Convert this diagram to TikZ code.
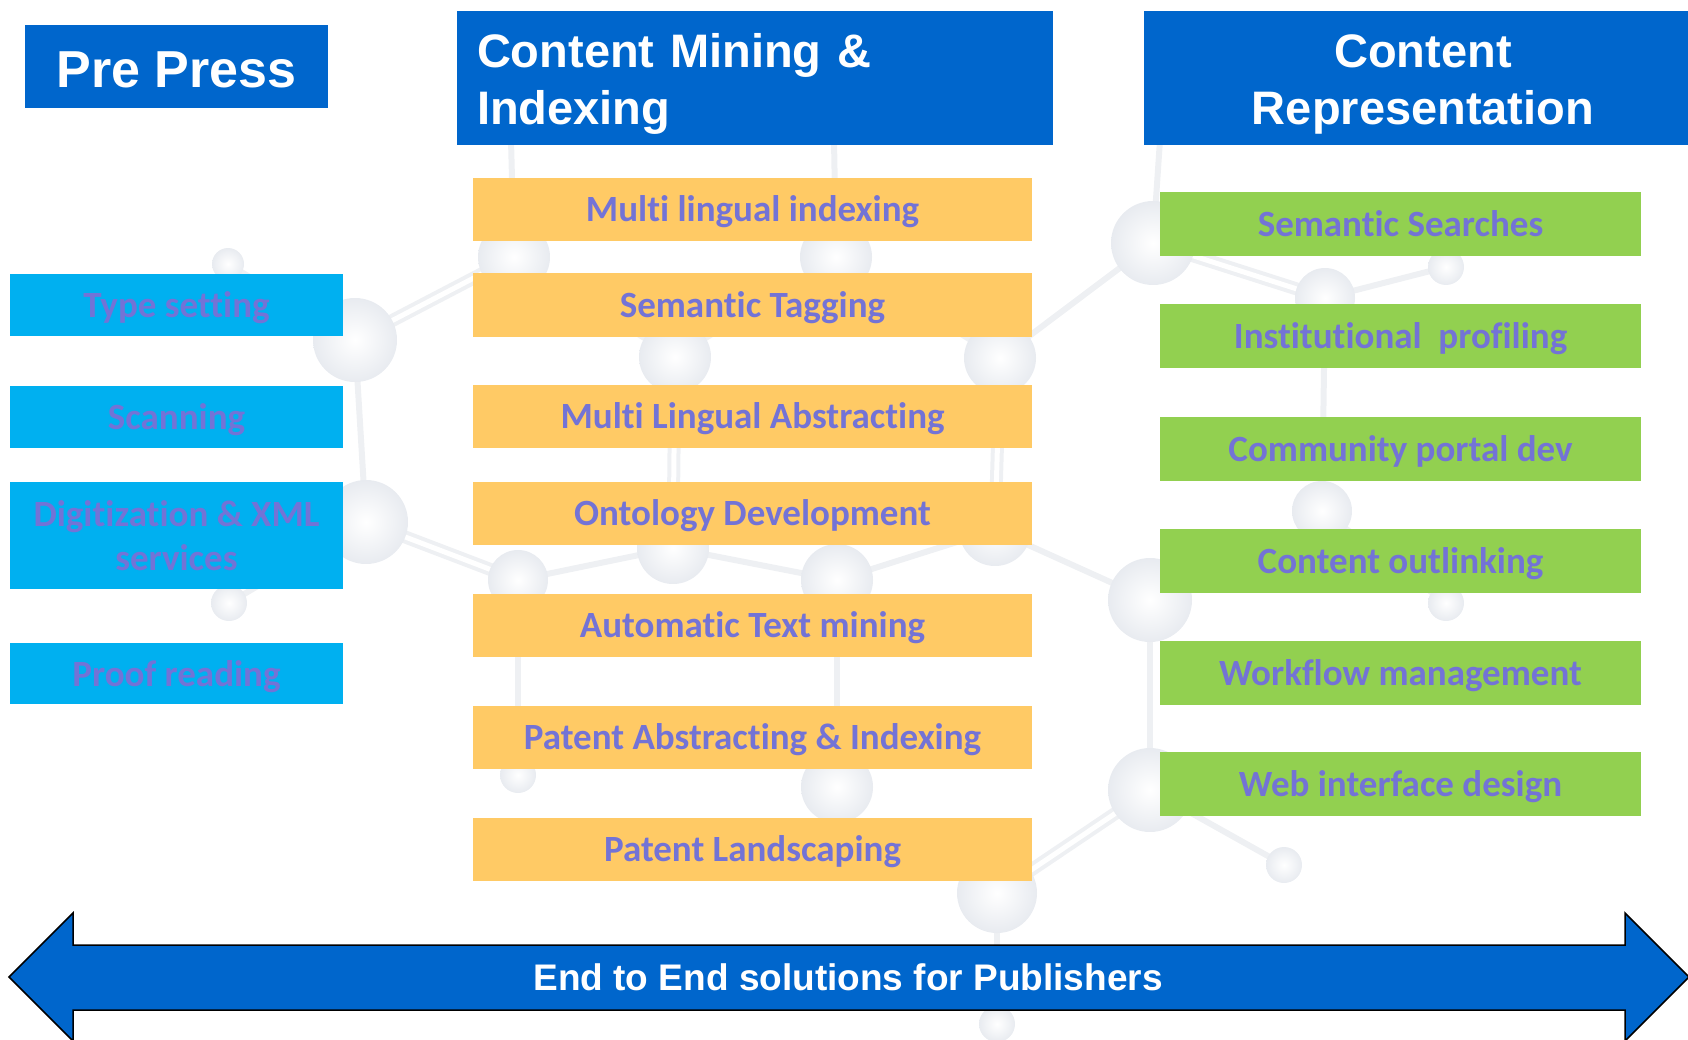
\documentclass[tikz,border=0pt]{standalone}
\usepackage{fontspec}
\setmainfont{Carlito}[Ligatures=NoCommon]
\newfontfamily\headfont{Liberation Sans}
\usetikzlibrary{calc}
\definecolor{headblue}{HTML}{0066CC}
\definecolor{pressblue}{HTML}{00B0F0}
\definecolor{minegold}{HTML}{FFCA65}
\definecolor{reprgreen}{HTML}{92D050}
\definecolor{itemviolet}{HTML}{7373D6}
\definecolor{bondgray}{HTML}{EEF0F3}
\definecolor{atomgray}{HTML}{E8EBF0}

\begin{document}
\begin{tikzpicture}[x=1pt,y=-1pt,
    item/.style={rectangle,inner sep=0pt,text=itemviolet,align=center,
      text height=29pt,text depth=4pt,
      font=\bfseries\fontsize{37}{44}\selectfont},
    head/.style={rectangle,fill=headblue,inner sep=0pt,text=white,
      font=\headfont\bfseries\fontsize{47}{57}\selectfont},
    single/.style={line width=6pt,draw=bondgray},
    twin/.style={line width=4pt,draw=bondgray,double=white,double distance=5pt}]
  \useasboundingbox (0,0) rectangle (1688,1040);
  % molecule in the background
  \foreach \x/\y/\r [count=\i] in {228/264/16,355/340/42,366/522/42,229/603/18,
      514/257/36,836/257/36,1153/243/42,675/357/36,1000/358/36,1325/298/30,
      1446/267/18,673/548/36,995/530/36,1322/511/30,1446/603/18,518/580/30,
      837/580/36,1150/600/42,518/775/18,837/787/36,1150/790/42,1284/865/18,
      997/893/40,997/1024/18}
    \coordinate (a\i) at (\x,\y);
  \coordinate (t5) at (511,140);
  \coordinate (t6) at (834,140);
  \coordinate (t7) at (1160,140);
  \foreach \a/\b in {1/2,2/3,3/4,5/8,8/6,6/9,9/7,10/11,10/14,14/15,12/16,12/17,
      13/17,13/18,18/21,16/19,17/20,21/22,23/24}
    \draw[single] (a\a) -- (a\b);
  \foreach \a in {5,6,7}
    \draw[single] (a\a) -- (t\a);
  \foreach \a/\b in {2/5,3/16,9/13,8/12,7/10,21/23}
    \draw[twin] (a\a) -- (a\b);
  \foreach \x/\y/\r in {228/264/16,355/340/42,366/522/42,229/603/18,
      514/257/36,836/257/36,1153/243/42,675/357/36,1000/358/36,1325/298/30,
      1446/267/18,673/548/36,995/530/36,1322/511/30,1446/603/18,518/580/30,
      837/580/36,1150/600/42,518/775/18,837/787/36,1150/790/42,1284/865/18,
      997/893/40,997/1024/18}
    \shade[inner color=white,outer color=atomgray] (\x,\y) circle[radius=\r pt];
  % column headers
  \node[head,minimum width=303pt,minimum height=83pt] (prepress) at (176.5,66.5)
    {\fontsize{52}{60}\selectfont\rule{0pt}{42pt}Pre Press};
  \node[head,minimum width=596pt,minimum height=134pt,text width=556pt,align=left]
    (mining) at (755,78) {\rule{0pt}{46pt}Content Mining \&\\Indexing};
  \node[head,minimum width=558pt,minimum height=134pt,align=center]
    (repr) at (1423,78) {\rule{0pt}{46pt}Content\\Representation};
  % pre press column
  \foreach \y/\h/\th/\t [count=\i] in {305/62/29/Type setting,417/62/29/Scanning,
      535.5/107/73/Digitization \& XML\\services,673.5/61/29/Proof reading}
    \node[item,fill=pressblue,minimum width=333pt,minimum height=\h pt,
      text height=\th pt] (press\i) at (176.5,\y) {\t};
  % mining column
  \foreach \y/\t [count=\i] in {209.5/Multi lingual indexing,305/Semantic Tagging,
      416/Multi Lingual Abstracting,513/Ontology Development,
      625/Automatic Text mining,737/Patent Abstracting \& Indexing,
      849/Patent Landscaping}
    \node[item,fill=minegold,minimum width=559pt,minimum height=63pt]
      (mine\i) at (752.5,\y) {\t};
  % representation column
  \foreach \y/\t [count=\i] in {224/Semantic Searches,336/Institutional~ profiling,
      448.5/Community portal dev,560.5/Content outlinking,
      672.5/Workflow management,784/Web interface design}
    \node[item,fill=reprgreen,minimum width=481pt,minimum height=64pt]
      (rep\i) at (1400.5,\y) {\t};
  % span arrow
  \draw[fill=headblue,draw=black,line width=1.5pt] (9,977) -- (73,913) -- (73,945)
    -- (1625,945) -- (1625,913) -- (1689,977) -- (1625,1041) -- (1625,1010)
    -- (73,1010) -- (73,1041) -- cycle;
  \node[text=white,font=\headfont\bfseries\fontsize{37}{44}\selectfont]
    (span) at (848,977) {End to End solutions for Publishers};
\end{tikzpicture}
\end{document}
